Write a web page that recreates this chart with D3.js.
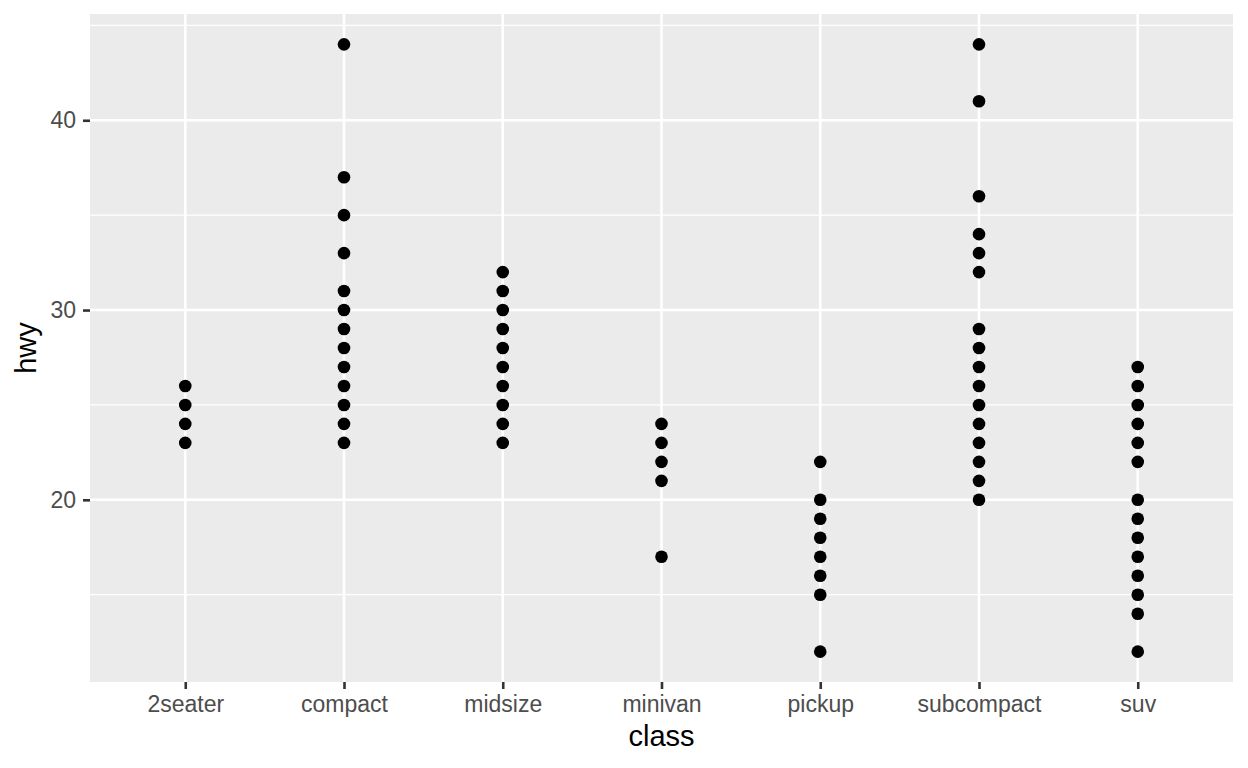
<!DOCTYPE html>
<html><head><meta charset="utf-8">
<script src="https://cdn.jsdelivr.net/npm/d3@7"></script>
<style>body{margin:0;background:#fff}svg{display:block}text{font-family:"Liberation Sans",Arial,sans-serif}</style>
</head><body>
<script>
const categories = ["2seater","compact","midsize","minivan","pickup","subcompact","suv"];
const v2seater = [23,24,25,26];
const vCompact = [23,24,25,26,27,28,29,30,31,33,35,37,44];
const vMidsize = [23,24,25,26,27,28,29,30,31,32];
const vMinivan = [17,21,22,23,24];
const vPickup = [12,15,16,17,18,19,20,22];
const vSubcompact = [20,21,22,23,24,25,26,27,28,29,32,33,34,36,41,44];
const vSuv = [12,14,15,16,17,18,19,20,22,23,24,25,26,27];
const yTicks = [20,30,40];
const yMinor = [15,25,35,45];
const xTitle = "class", yTitle = "hwy";

const seriesList = [v2seater,vCompact,vMidsize,vMinivan,vPickup,vSubcompact,vSuv];
const points = [];
categories.forEach((c,i)=>seriesList[i].forEach(v=>points.push({c,v})));

const W=1248,H=768;
const L=90,R=1233,T=14,B=682;
const svg=d3.select("body").append("svg").attr("width",W).attr("height",H);
const x=d3.scalePoint().domain(categories).range([L,R]).padding(0.6);
const y=d3.scaleLinear().domain([10.4,45.6]).range([B,T]);

svg.append("rect").attr("x",L).attr("y",T).attr("width",R-L).attr("height",B-T).attr("fill","#EBEBEB");
const g=svg.append("g");
g.selectAll(".minor").data(yMinor).join("line").attr("x1",L).attr("x2",R)
 .attr("y1",d=>y(d)).attr("y2",d=>y(d)).attr("stroke","#fff").attr("stroke-width",1.3);
g.selectAll(".majy").data(yTicks).join("line").attr("x1",L).attr("x2",R)
 .attr("y1",d=>y(d)).attr("y2",d=>y(d)).attr("stroke","#fff").attr("stroke-width",2.6);
g.selectAll(".majx").data(categories).join("line").attr("y1",T).attr("y2",B)
 .attr("x1",d=>x(d)).attr("x2",d=>x(d)).attr("stroke","#fff").attr("stroke-width",2.6);

svg.append("g").selectAll("circle").data(points).join("circle")
 .attr("cx",d=>x(d.c)).attr("cy",d=>y(d.v)).attr("r",6.3).attr("fill","#000");

// axes
const xa=svg.append("g").attr("transform",`translate(0,${B})`)
 .call(d3.axisBottom(x).tickSize(7).tickPadding(7));
const ya=svg.append("g").attr("transform",`translate(${L},0)`)
 .call(d3.axisLeft(y).tickValues(yTicks).tickSize(7).tickPadding(7));
[xa,ya].forEach(a=>{a.select(".domain").remove();
 a.selectAll(".tick line").attr("stroke","#333").attr("stroke-width",2.6);
 a.selectAll(".tick text").attr("fill","#4D4D4D").style("font-size","23px").style("font-family","'Liberation Sans',Arial,sans-serif");});

svg.append("text").attr("x",(L+R)/2).attr("y",746).attr("text-anchor","middle")
 .style("font-size","29px").attr("fill","#000").text(xTitle);
svg.append("text").attr("transform",`translate(36,${(T+B)/2}) rotate(-90)`).attr("text-anchor","middle")
 .style("font-size","29px").attr("fill","#000").text(yTitle);
</script>
</body></html>
